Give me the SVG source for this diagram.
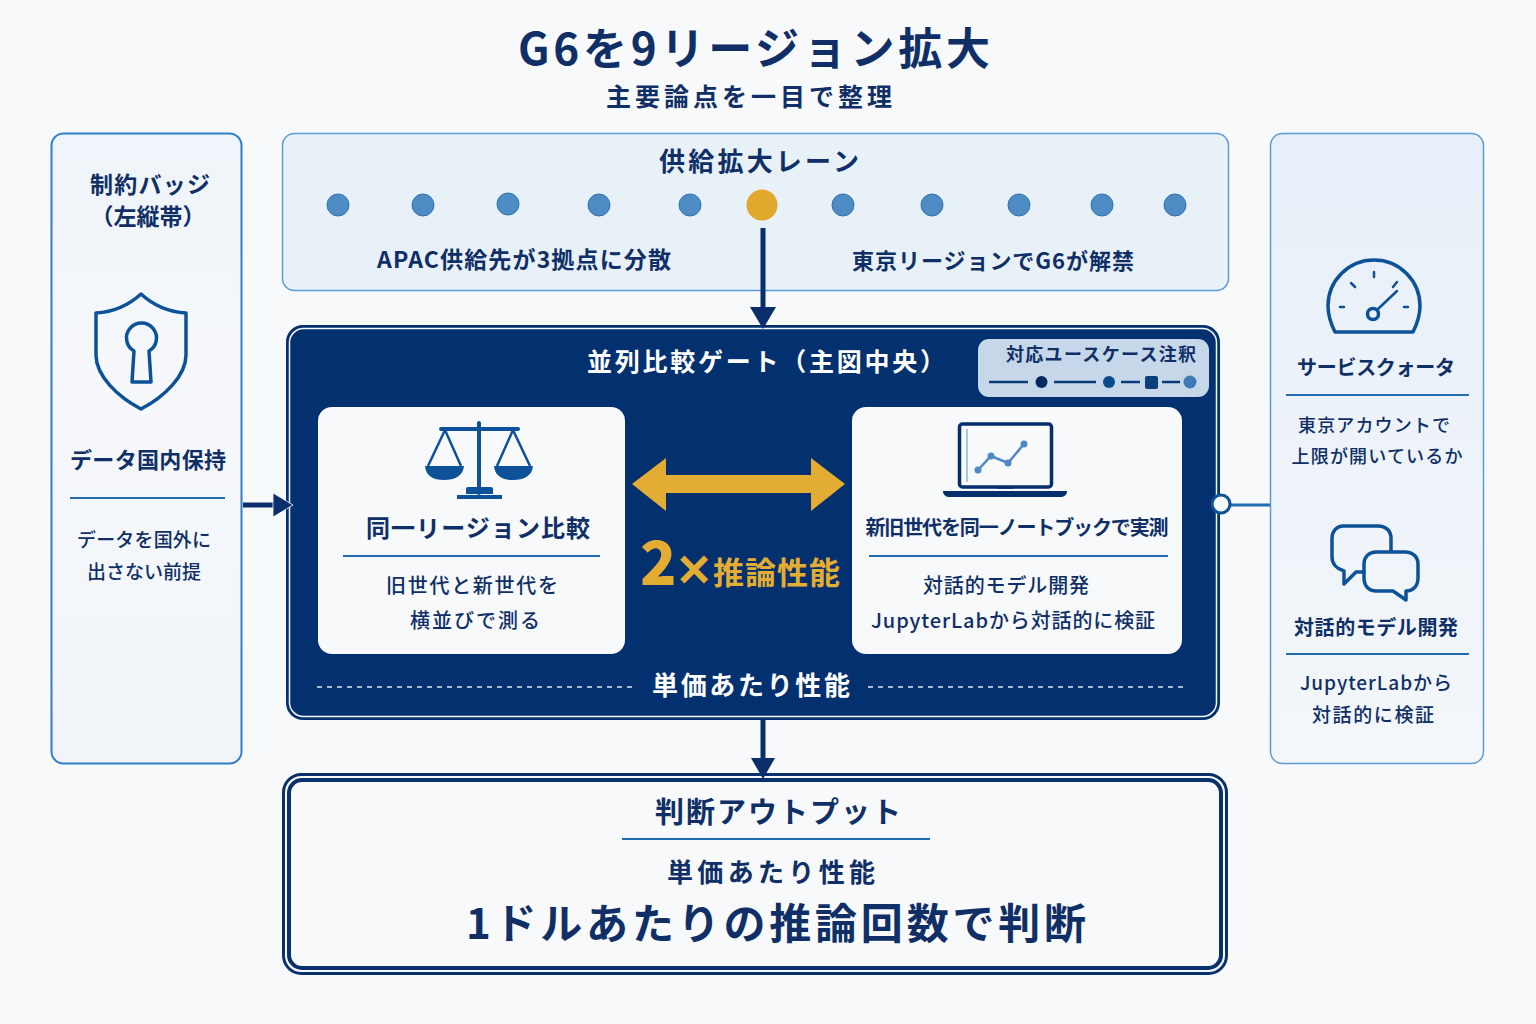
<svg xmlns="http://www.w3.org/2000/svg" width="1536" height="1024" viewBox="0 0 1536 1024">
<style>
text{font-family:"Noto Sans CJK JP","Noto Sans",sans-serif;fill:#0f2f66;font-weight:500}
.b{font-weight:700}
.m{text-anchor:middle}
.w{fill:#fff}
.y{fill:#e3ac33;font-weight:700}
.ic{fill:none;stroke:#0d5199;stroke-width:3.500;stroke-linejoin:round;stroke-linecap:round}
.dot{fill:#4f8cc4;stroke:#2f72b3;stroke-width:1}
.rule{stroke:#1f6cb0;stroke-width:2}
.conn{stroke:#0a2f6c;stroke-width:5;fill:none}
.head{fill:#0a2f6c}
</style>
<defs>
<linearGradient id="pr" x1="0" y1="0" x2="0" y2="1"><stop offset="0" stop-color="#e6eff8"/><stop offset="0.55" stop-color="#eef3f9"/><stop offset="1" stop-color="#f3f7fb"/></linearGradient>
<linearGradient id="pl" x1="0" y1="0" x2="0" y2="1"><stop offset="0" stop-color="#eef4f9"/><stop offset="0.4" stop-color="#f6f8fb"/><stop offset="1" stop-color="#f0f5fa"/></linearGradient>
</defs>
<rect width="1536" height="1024" fill="#f7f9fb"/>
<g id="title">
<text class="b m" x="754" y="65" font-size="44" textLength="472" lengthAdjust="spacing">G6を9リージョン拡大</text>
<text class="b m" x="749" y="106" font-size="25" textLength="286" lengthAdjust="spacing">主要論点を一目で整理</text>
</g>
<g id="badge-left">
<rect x="51.500" y="133.500" width="190" height="630" rx="12" fill="url(#pl)" stroke="#2f7fc8" stroke-width="2"/>
<text class="b m" x="150" y="193" font-size="23" textLength="120" lengthAdjust="spacing">制約バッジ</text>
<text class="b m" x="148" y="225" font-size="23">（左縦帯）</text>
<path class="ic" d="M141 294C129 305 113 312 96 313V355C96 376 118 397 141 409C164 397 186 376 186 355V313C169 312 153 305 141 294Z"/>
<path class="ic" d="M134 351A15 15 0 1 1 149 351L151 382H132Z"/>
<text class="b m" x="148" y="468" font-size="22" textLength="156" lengthAdjust="spacing">データ国内保持</text>
<line class="rule" x1="70" y1="498" x2="225" y2="498"/>
<text class="m" x="144" y="547" font-size="19" textLength="134" lengthAdjust="spacing">データを国外に</text>
<text class="m" x="144" y="579" font-size="19" textLength="114" lengthAdjust="spacing">出さない前提</text>
</g>
<g id="lane-top">
<rect x="282.500" y="133.500" width="946" height="157" rx="12" fill="#e8f0f8" stroke="#5d9ad6" stroke-width="1.500"/>
<text class="b m" x="759" y="171" font-size="26" textLength="200" lengthAdjust="spacing">供給拡大レーン</text>
<circle class="dot" cx="338" cy="205" r="11"/><circle class="dot" cx="423" cy="205" r="11"/><circle class="dot" cx="508" cy="204" r="11"/><circle class="dot" cx="599" cy="205" r="11"/><circle class="dot" cx="690" cy="205" r="11"/>
<circle cx="762" cy="205" r="15.500" fill="#e0a92e"/>
<circle class="dot" cx="843" cy="205" r="11"/><circle class="dot" cx="932" cy="205" r="11"/><circle class="dot" cx="1019" cy="205" r="11"/><circle class="dot" cx="1102" cy="205" r="11"/><circle class="dot" cx="1175" cy="205" r="11"/>
<text class="b m" x="524" y="268" font-size="23" textLength="294" lengthAdjust="spacing">APAC供給先が3拠点に分散</text>
<text class="b m" x="993" y="269" font-size="22" textLength="282" lengthAdjust="spacing">東京リージョンでG6が解禁</text>
</g>
<g id="gate-center">
<rect x="286" y="325" width="934" height="395" rx="17" fill="#03306e"/>
<rect x="289.500" y="328.500" width="927" height="388" rx="14" fill="none" stroke="#f2f5f9" stroke-width="1.500"/>
<text class="w b" x="587" y="371" font-size="25" textLength="358" lengthAdjust="spacing">並列比較ゲート（主図中央）</text>
<g id="legend">
<rect x="978" y="339" width="231" height="58" rx="11" fill="#c5d7e9"/>
<text class="b m" x="1101" y="361" font-size="18" textLength="190" lengthAdjust="spacing">対応ユースケース注釈</text>
<path d="M989 382H1028M1054 382H1096M1121 382H1140M1162 382H1180" stroke="#0a3a78" stroke-width="2.500"/>
<circle cx="1041.500" cy="382" r="6" fill="#032a60"/><circle cx="1109" cy="382" r="6" fill="#0a4b8c"/>
<rect x="1145" y="376" width="13" height="13" rx="2" fill="#0d3f7d"/><circle cx="1190" cy="382" r="6.500" fill="#3d7ab8"/>
</g>
<g id="compare-left">
<rect x="318" y="407" width="307" height="247" rx="14" fill="#f7f9fb"/>
<path d="M479 423V493M441 429H518" stroke="#0d5199" stroke-width="4" fill="none" stroke-linecap="round"/>
<path d="M445 430L428 466M445 430L461 466M513 430L497 466M513 430L530 466" stroke="#0d5199" stroke-width="2.500" fill="none"/>
<path d="M425 466H464C463 476 455 480 444 480C433 480 426 476 425 466ZM494 466H533C532 476 524 480 513 480C502 480 495 476 494 466Z" fill="#0d5199"/>
<path d="M466 489a2 2 0 0 1 2-2h23a2 2 0 0 1 2 2v5h-27ZM457 495H502V499H457Z" fill="#0d5199"/>
<text class="b m" x="478" y="537" font-size="24" textLength="224" lengthAdjust="spacing">同一リージョン比較</text>
<line class="rule" x1="343" y1="556" x2="600" y2="556"/>
<text class="m" x="472" y="593" font-size="20" textLength="172" lengthAdjust="spacing">旧世代と新世代を</text>
<text class="m" x="475" y="628" font-size="20" textLength="130" lengthAdjust="spacing">横並びで測る</text>
</g>
<g id="compare-center">
<path d="M632 484L666 458V475H811V458L845 484L811 511V493H666V511Z" fill="#e3ac33"/>
<text class="y" x="640" y="585" font-size="60" style="font-weight:900">2</text>
<text class="y" x="675" y="584" font-size="38" stroke="#e3ac33" stroke-width="2">×</text>
<text class="y" x="713" y="584" font-size="31" textLength="127" lengthAdjust="spacing">推論性能</text>
</g>
<g id="compare-right">
<rect x="852" y="407" width="330" height="247" rx="14" fill="#f7f9fb"/>
<rect x="959.500" y="424" width="92" height="63" rx="3" fill="none" stroke="#032f6c" stroke-width="3.500"/>
<line x1="967" y1="429" x2="967" y2="482" stroke="#5f94c6" stroke-width="1"/>
<path d="M943 491H1067C1067 495 1064 497 1060 497H950C946 497 943 495 943 491Z" fill="#032f6c"/>
<path d="M997 488H1013" stroke="#032f6c" stroke-width="1.500"/>
<path d="M978 470L991 456L1008 463L1024 444" stroke="#4f88c2" stroke-width="2.500" fill="none"/>
<circle cx="978" cy="470" r="3.500" fill="#4f88c2"/><circle cx="991" cy="456" r="3.500" fill="#4f88c2"/><circle cx="1008" cy="463" r="3.500" fill="#4f88c2"/><circle cx="1024" cy="444" r="3.500" fill="#4f88c2"/>
<text class="b m" x="1017" y="535" font-size="20" textLength="303" lengthAdjust="spacing">新旧世代を同一ノートブックで実測</text>
<line class="rule" x1="869" y1="556" x2="1168" y2="556"/>
<text class="m" x="1006" y="593" font-size="20" textLength="166" lengthAdjust="spacing">対話的モデル開発</text>
<text class="m" x="1013" y="628" font-size="20" textLength="284" lengthAdjust="spacing">JupyterLabから対話的に検証</text>
</g>
<path d="M317 687H632M868 687H1184" stroke="#dfe6ef" stroke-width="1.500" stroke-dasharray="5 5" fill="none"/>
<text class="w b m" x="751" y="695" font-size="26" textLength="198" lengthAdjust="spacing">単価あたり性能</text>
</g>
<g id="quota-right">
<rect x="1270.500" y="133.500" width="213" height="630" rx="12" fill="url(#pr)" stroke="#5d9ad6" stroke-width="1.500"/>
<path class="ic" d="M1335 332C1330 322 1328 314 1328 306A46 46 0 0 1 1420 306C1420 314 1418 322 1413 332Z"/>
<path class="ic" style="stroke-width:2.500" d="M1374 272V277M1351 283L1355 287M1397 282L1393 287M1340 307H1344M1404 307H1408"/>
<path class="ic" style="stroke-width:2.500" d="M1378 309L1397 291"/><circle cx="1373" cy="314" r="5.500" class="ic"/>
<text class="b m" x="1376" y="375" font-size="20" textLength="158" lengthAdjust="spacing">サービスクォータ</text>
<line class="rule" x1="1286" y1="395" x2="1469" y2="395"/>
<text class="m" x="1374" y="432" font-size="18" textLength="152" lengthAdjust="spacing">東京アカウントで</text>
<text class="m" x="1377" y="463" font-size="18" textLength="171" lengthAdjust="spacing">上限が開いているか</text>
<path class="ic" d="M1364 572H1356L1344 584V571C1337 569 1332 564 1332 557V538C1332 531 1337 526 1343 526H1378C1386 526 1391 531 1391 538V551"/>
<path class="ic" d="M1376 552H1405C1413 552 1418 557 1418 564V578C1418 586 1413 591 1406 591V600L1393 591H1376C1369 591 1364 586 1364 578V564C1364 557 1369 552 1376 552Z"/>
<text class="b m" x="1376" y="635" font-size="20" textLength="164" lengthAdjust="spacing">対話的モデル開発</text>
<line class="rule" x1="1286" y1="654" x2="1469" y2="654"/>
<text class="m" x="1376" y="690" font-size="19" textLength="152" lengthAdjust="spacing">JupyterLabから</text>
<text class="m" x="1373" y="722" font-size="19" textLength="122" lengthAdjust="spacing">対話的に検証</text>
</g>
<g id="output-bottom">
<rect x="283.500" y="774.500" width="943" height="199" rx="18" fill="#f7f9fb" stroke="#08316e" stroke-width="3"/>
<rect x="289" y="780" width="932" height="188" rx="13" fill="none" stroke="#08316e" stroke-width="4"/>
<text class="b m" x="778" y="823" font-size="29" textLength="246" lengthAdjust="spacing">判断アウトプット</text>
<line class="rule" x1="622" y1="839" x2="930" y2="839"/>
<text class="b m" x="771" y="882" font-size="26" textLength="208" lengthAdjust="spacing">単価あたり性能</text>
<text class="b m" x="776" y="939" font-size="42" textLength="620" lengthAdjust="spacing">1ドルあたりの推論回数で判断</text>
</g>
<g id="connectors">
<path class="conn" d="M763 228V310"/><path class="head" d="M750 307H776L763 329Z"/>
<path class="conn" d="M243 505H275"/><path class="head" d="M273 493L293 505L273 517Z" stroke="#f7f9fb" stroke-width="0.800"/>
<path class="conn" d="M763 720V762"/><path class="head" d="M751 758H775L763 779Z"/>
<path d="M1230 505H1270" stroke="#1f6cb0" stroke-width="3" fill="none"/>
<circle cx="1221" cy="504" r="9" fill="#f7f9fb" stroke="#0d5199" stroke-width="3"/>
</g>
</svg>
